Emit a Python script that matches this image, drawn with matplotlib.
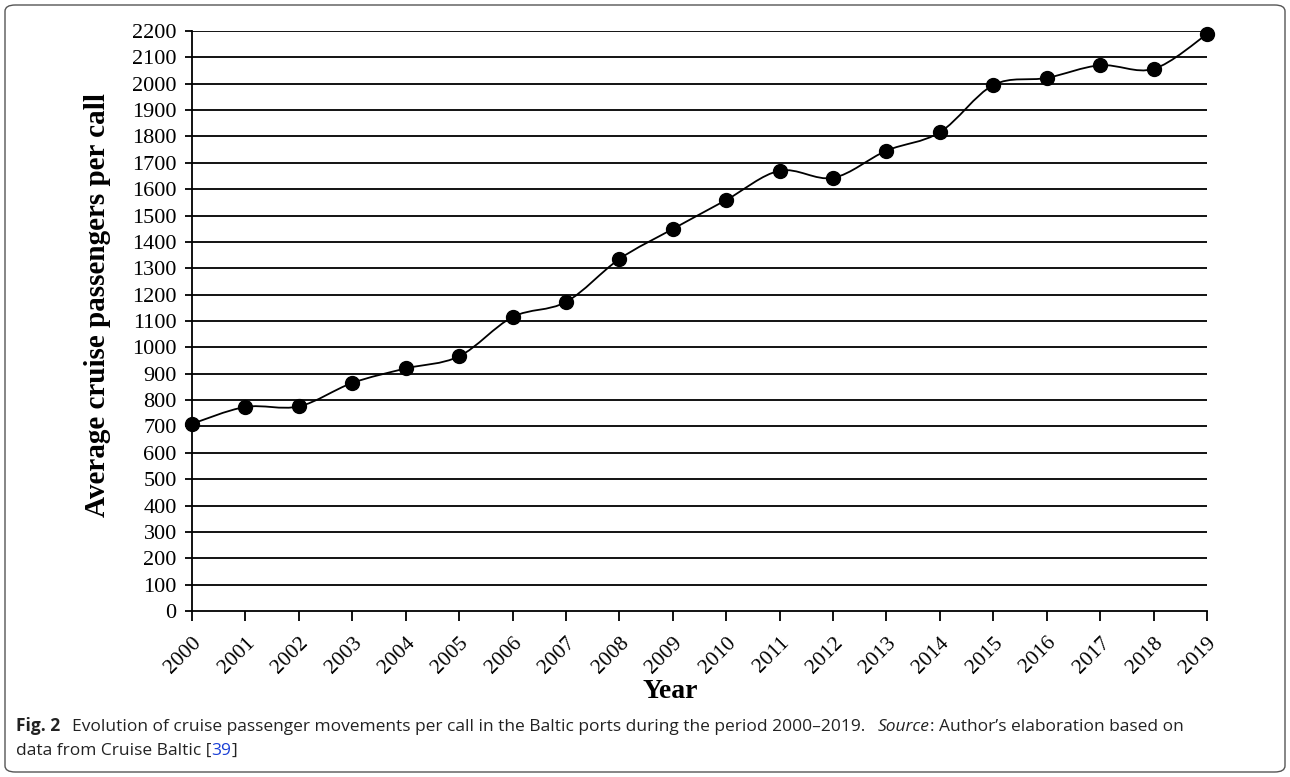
import numpy as np
import matplotlib.pyplot as plt
from matplotlib.path import Path
from matplotlib.patches import PathPatch, FancyBboxPatch

years = [str(y) for y in range(2000, 2020)]
passengers = [710, 774, 776, 865, 920, 966, 1115, 1172, 1335, 1449,
              1559, 1670, 1643, 1746, 1816, 1995, 2022, 2070, 2056, 2188]
yticks = list(range(0, 2201, 100))


def smooth_path(x, y, t=0.5 / 3):
    # Bezier segments through the points (like a spreadsheet "smoothed line")
    verts = [(x[0], y[0])]
    codes = [Path.MOVETO]
    n = len(x)
    for i in range(n - 1):
        x0, y0 = (x[i - 1], y[i - 1]) if i > 0 else (x[i], y[i])
        x3, y3 = (x[i + 2], y[i + 2]) if i + 2 < n else (x[i + 1], y[i + 1])
        c1 = (x[i] + (x[i + 1] - x0) * t, y[i] + (y[i + 1] - y0) * t)
        c2 = (x[i + 1] - (x3 - x[i]) * t, y[i + 1] - (y3 - y[i]) * t)
        verts += [c1, c2, (x[i + 1], y[i + 1])]
        codes += [Path.CURVE4] * 3
    return Path(verts, codes)


fig = plt.figure(figsize=(12.9, 7.77), dpi=100)
ax = fig.add_axes([192 / 1290, 1 - 611 / 777, 1015 / 1290, 580 / 777])

xs = np.arange(len(years))
ax.add_patch(PathPatch(smooth_path(xs, passengers), fill=False, lw=1.3, color="black", zorder=3))
ax.plot(xs, passengers, "o", color="black", markersize=10, zorder=4, clip_on=False)

ax.set_xlim(0, len(years) - 1)
ax.set_ylim(0, 2200)
ax.set_yticks(yticks)
ax.set_yticklabels([str(v) for v in yticks], fontfamily="Liberation Serif", fontsize=16)
ax.set_xticks(xs)
ax.set_xticklabels(years, rotation=45, ha="right", rotation_mode="anchor",
                   fontfamily="Liberation Serif", fontsize=15.5)
ax.tick_params(axis="x", length=7, width=1.3, direction="out", pad=9)
ax.tick_params(axis="y", length=5, width=1.3, direction="out", pad=6)
for v in yticks[1:]:
    ax.axhline(v, color="black", lw=1.3, zorder=1)
for s in ["top", "right"]:
    ax.spines[s].set_visible(False)
ax.spines["left"].set_linewidth(1.3)
ax.spines["bottom"].set_linewidth(1.3)

fig.text(98 / 1290, 1 - 305 / 777, "Average cruise passengers per call", rotation=90,
         fontfamily="Liberation Serif", fontsize=21, fontweight="bold",
         ha="center", va="center")
fig.text(670 / 1290, 1 - 692 / 777, "Year", fontfamily="Liberation Serif", fontsize=20,
         fontweight="bold", ha="center", va="center")

# caption: pieces placed one after another on a shared baseline
renderer = fig.canvas.get_renderer()
cap = dict(fontsize=12.5, fontfamily="Open Sans", color="#222222", va="baseline")


def chain(x_px, y_px, pieces):
    for txt, gap, extra in pieces:
        x_px += gap
        t = fig.text(x_px / 1290, 1 - y_px / 777, txt, **{**cap, **extra})
        x_px = t.get_window_extent(renderer).x1


chain(16, 731, [("Fig. 2", 0, {"fontweight": "bold"}),
                ("Evolution of cruise passenger movements per call in the Baltic ports "
                 "during the period 2000\u20132019.", 12, {}),
                ("Source", 12, {"style": "italic"}),
                (": Author\u2019s elaboration based on", 1, {})])
chain(16, 755, [("data from Cruise Baltic [", 0, {}),
                ("39", 0, {"color": "#1a3fd6"}),
                ("]", 0, {})])

fig.patches.append(FancyBboxPatch((5 / 1290, 5 / 777), 1280 / 1290, 767 / 777,
                                  boxstyle="round,pad=0,rounding_size=0.008",
                                  transform=fig.transFigure, fill=False,
                                  ec="#555555", lw=1.0))

fig.savefig("out.png", dpi=100)
